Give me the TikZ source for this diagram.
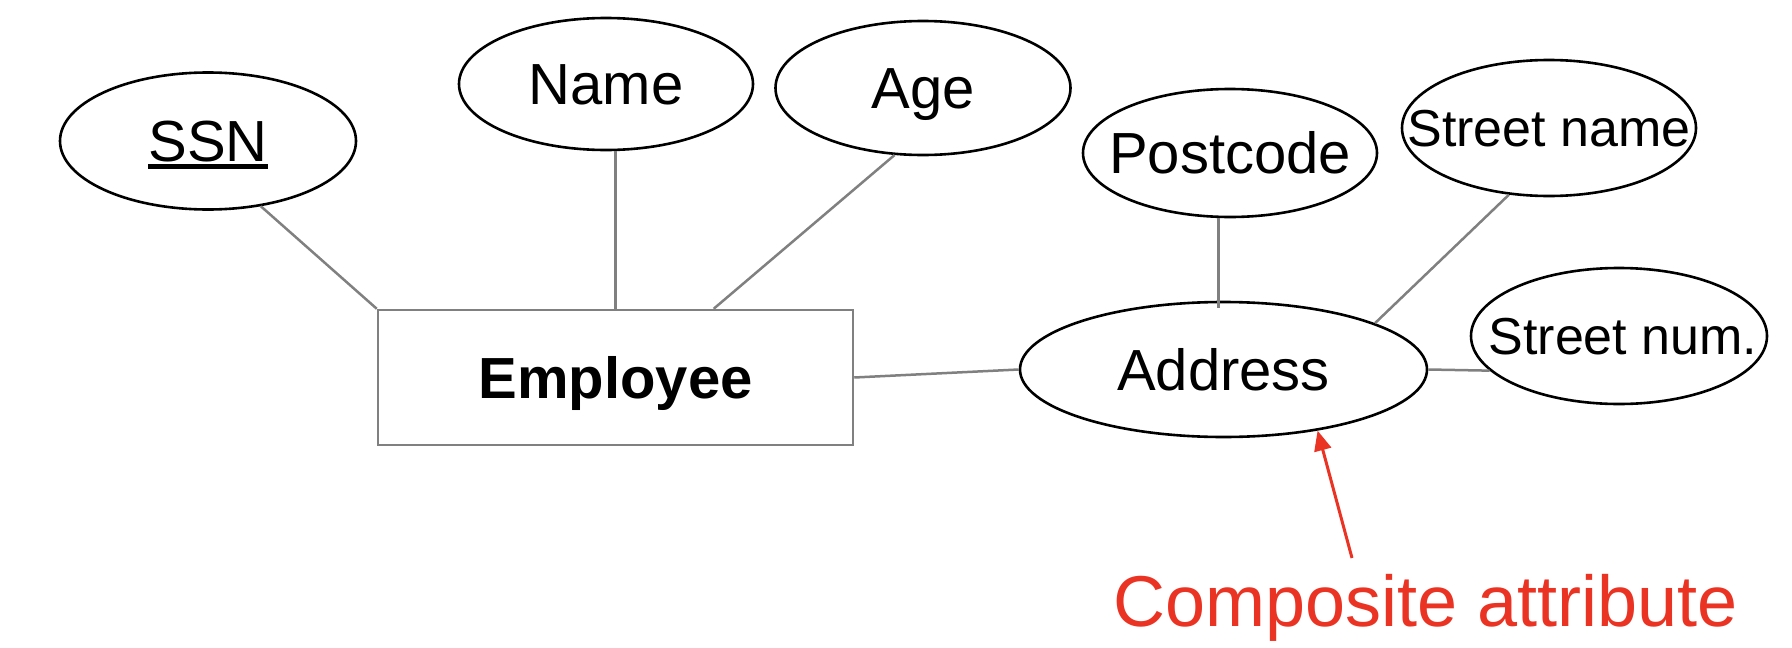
\documentclass[tikz,border=0pt]{standalone}
\usepackage{fontspec}
\setmainfont{Liberation Sans}
\usetikzlibrary{shapes.geometric,arrows.meta,calc}
\definecolor{linegray}{RGB}{128,128,128}
\definecolor{annored}{RGB}{234,51,35}
\newcommand\ulbar[1]{\setbox0\hbox{#1}\rlap{\copy0}\rule[-7pt]{\wd0}{5pt}}
\begin{document}
\begin{tikzpicture}[x=1pt,y=-1pt,
  attr/.style={ellipse,draw=black,line width=2.6pt,inner sep=0pt,
    minimum width=295pt,minimum height=134pt,text height=41.5pt,text depth=0pt,
    font=\fontsize{58}{70}\selectfont},
  smallattr/.style={attr,text height=37.2pt,font=\fontsize{52}{62}\selectfont},
  entity/.style={rectangle,draw=linegray,line width=2.5pt,inner sep=0pt,
    minimum width=475pt,minimum height=135pt,text height=41.5pt,text depth=0pt,
    font=\fontsize{58}{70}\selectfont\bfseries},
  conn/.style={draw=linegray,line width=2.5pt},
  redarrow/.style={draw=annored,line width=3pt,-{Triangle[length=20pt,width=17pt]}},
  note/.style={text=annored,anchor=base,inner sep=0pt,font=\fontsize{72}{86}\selectfont}]
\useasboundingbox (0,0) rectangle (1792,648);
\node[entity] (emp) at (615.5,377.5) {\makebox[0pt]{Employee}};
\node[attr,minimum width=296pt,minimum height=137pt] (ssn) at (208,141) {\makebox[0pt]{\ulbar{SSN}}};
\node[attr,minimum width=294pt,minimum height=132pt] (name) at (606,84) {\makebox[0pt]{Name}};
\node[attr,minimum width=295pt,minimum height=134pt] (age) at (923,88) {\makebox[0pt]{Age}};
\node[attr,minimum width=294pt,minimum height=128pt] (post) at (1230,153) {\makebox[0pt]{Postcode}};
\node[smallattr,minimum width=294pt,minimum height=136pt] (sname) at (1549,128) {\makebox[0pt]{Street name}};
\node[smallattr,minimum width=296pt,minimum height=136pt] (snum) at (1619,336) {\makebox[0pt]{\hspace*{8pt}Street num.}};
\node[attr,minimum width=407pt,minimum height=135pt] (addr) at (1223.5,369.5) {\makebox[0pt]{Address}};
\node[note] (comp) at (1426,626) {Composite attribute};
\coordinate (tail) at (1352,558);
\draw[conn] (ssn.-51) -- (emp.north west);
\draw[conn] (name.south -| emp.north) -- (emp.north);
\draw[conn] (age.-113) -- (emp.35.5);
\draw[conn] (emp.east) -- (addr.west);
\draw[conn] (post.-100) -- ([yshift=-7pt]post.-100 |- addr.north);
\draw[conn] (sname.-121) -- (addr.17);
\draw[conn] (addr.east) -- (snum.195);
\draw[redarrow] (tail) -- (addr.-33.5);
\end{tikzpicture}
\end{document}
